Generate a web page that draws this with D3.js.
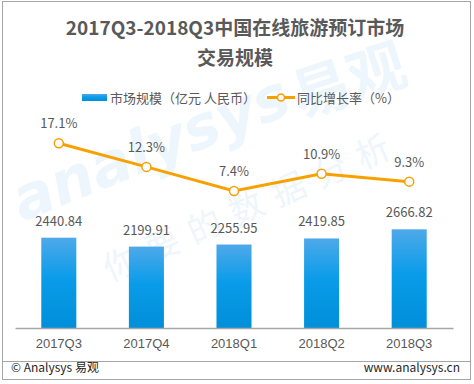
<!DOCTYPE html>
<html lang="zh">
<head>
<meta charset="UTF-8">
<title>中国在线旅游预订市场交易规模</title>
<script src="https://cdn.jsdelivr.net/npm/d3@7"></script>
<style>
    body { margin: 0; background: #fff; }
    svg { display: block; font-family: "Noto Sans CJK SC", "Microsoft YaHei", sans-serif; }
    .lbl { fill: #595959; font-size: 13px; }
</style>
</head>
<body>
<svg id="chart" width="474" height="384"></svg>
<script>
// data
const quarters = ["2017Q3", "2017Q4", "2018Q1", "2018Q2", "2018Q3"];
const marketSize = [2440.84, 2199.91, 2255.95, 2419.85, 2666.82];   // 亿元 人民币
const yoyGrowth = [17.1, 12.3, 7.4, 10.9, 9.3];                        // %

const svg = d3.select("#chart");

// frame
svg.append("rect").attr("x", 2.5).attr("y", 1.5).attr("width", 468).attr("height", 378)
    .attr("fill", "none").attr("stroke", "#a6a6a6").attr("stroke-width", 1);
svg.append("line").attr("x1", 2.5).attr("x2", 470.5).attr("y1", 361.5).attr("y2", 361.5)
    .attr("stroke", "#a6a6a6");

// watermark (faint)
const wm = svg.append("g").attr("pointer-events", "none");
wm.append("text").attr("transform", "translate(22,222) rotate(-22)")
    .attr("font-family", "Verdana, DejaVu Sans, sans-serif").attr("font-style", "italic")
    .attr("font-weight", "bold").attr("font-size", 60).attr("fill", "#edf6fc").text("analysys");
wm.append("text").attr("transform", "translate(300,118) rotate(-18)")
    .attr("font-weight", "bold").attr("font-size", 58).attr("fill", "#edf6fc").text("易观");
wm.append("text").attr("transform", "translate(110,282) rotate(-24)")
    .attr("font-size", 34).attr("fill", "#eef6fc").attr("letter-spacing", 12).text("你要的数据分析");

// title
const title = svg.append("g").attr("font-weight", "bold").attr("font-size", 19)
    .attr("fill", "#595959").attr("text-anchor", "middle");
title.append("text").attr("x", 235).attr("y", 35).text("2017Q3-2018Q3中国在线旅游预订市场");
title.append("text").attr("x", 235).attr("y", 65).text("交易规模");

// scales
const x = d3.scaleBand().domain(quarters).range([15, 453]).paddingInner(0.6).paddingOuter(0.3);
const yBar = d3.scaleLinear().domain([0, 3000]).range([328, 217]);
const yLine = d3.scaleLinear().domain([0, 20]).range([227.4, 129]);

// gradient for bars
const grad = svg.append("defs").append("linearGradient").attr("id", "barGrad")
    .attr("x1", 0).attr("y1", 0).attr("x2", 0).attr("y2", 1);
grad.append("stop").attr("offset", "0%").attr("stop-color", "#4ea9e9");
grad.append("stop").attr("offset", "45%").attr("stop-color", "#0a9ce9");
grad.append("stop").attr("offset", "100%").attr("stop-color", "#008fd9");

// legend
const lg = svg.append("g");
lg.append("rect").attr("x", 82).attr("y", 94).attr("width", 25).attr("height", 7).attr("fill", "url(#barGrad)");
lg.append("text").attr("class", "lbl").attr("x", 110).attr("y", 102.5).text("市场规模（亿元 人民币）");
lg.append("line").attr("x1", 267).attr("x2", 295).attr("y1", 97.5).attr("y2", 97.5)
    .attr("stroke", "#f7a100").attr("stroke-width", 3);
lg.append("circle").attr("cx", 281).attr("cy", 97.5).attr("r", 3.5)
    .attr("fill", "#fff").attr("stroke", "#f7a100").attr("stroke-width", 1.5);
lg.append("text").attr("class", "lbl").attr("x", 297).attr("y", 102.5).text("同比增长率（%）");

// bars
svg.append("g").selectAll("rect").data(marketSize).join("rect")
    .attr("x", (d, i) => x(quarters[i]))
    .attr("y", d => yBar(d))
    .attr("width", x.bandwidth())
    .attr("height", d => yBar(0) - yBar(d))
    .attr("fill", "url(#barGrad)");

svg.append("g").selectAll("text").data(marketSize).join("text")
    .attr("class", "lbl").attr("text-anchor", "middle")
    .attr("x", (d, i) => x(quarters[i]) + x.bandwidth() / 2)
    .attr("y", d => yBar(d) - 12)
    .text(d => d.toFixed(2));

// x axis
const axis = svg.append("g").attr("transform", "translate(0,328)")
    .call(d3.axisBottom(x).tickSize(0).tickPadding(11));
axis.select(".domain").attr("stroke", "#a6a6a6").attr("stroke-width", 1.3);
axis.selectAll("text").attr("class", "lbl").style("font-size", "13px")
    .attr("font-family", "inherit").attr("fill", "#595959");

// growth line
const cx = (d, i) => x(quarters[i]) + x.bandwidth() / 2;
svg.append("path").datum(yoyGrowth)
    .attr("fill", "none").attr("stroke", "#f7a100").attr("stroke-width", 3)
    .attr("d", d3.line().x(cx).y(d => yLine(d)));

svg.append("g").selectAll("circle").data(yoyGrowth).join("circle")
    .attr("cx", cx).attr("cy", d => yLine(d)).attr("r", 4.5)
    .attr("fill", "#fff").attr("stroke", "#f7a100").attr("stroke-width", 1.5);

svg.append("g").selectAll("text").data(yoyGrowth).join("text")
    .attr("class", "lbl").attr("text-anchor", "middle")
    .attr("x", cx).attr("y", d => yLine(d) - 15)
    .text(d => d.toFixed(1) + "%");

// footer
svg.append("text").attr("x", 11).attr("y", 372).attr("font-size", 12).attr("fill", "#262626")
    .text("© Analysys 易观");
svg.append("text").attr("x", 460).attr("y", 372).attr("text-anchor", "end")
    .attr("font-size", 12).attr("fill", "#262626").text("www.analysys.cn");
</script>
</body>
</html>
